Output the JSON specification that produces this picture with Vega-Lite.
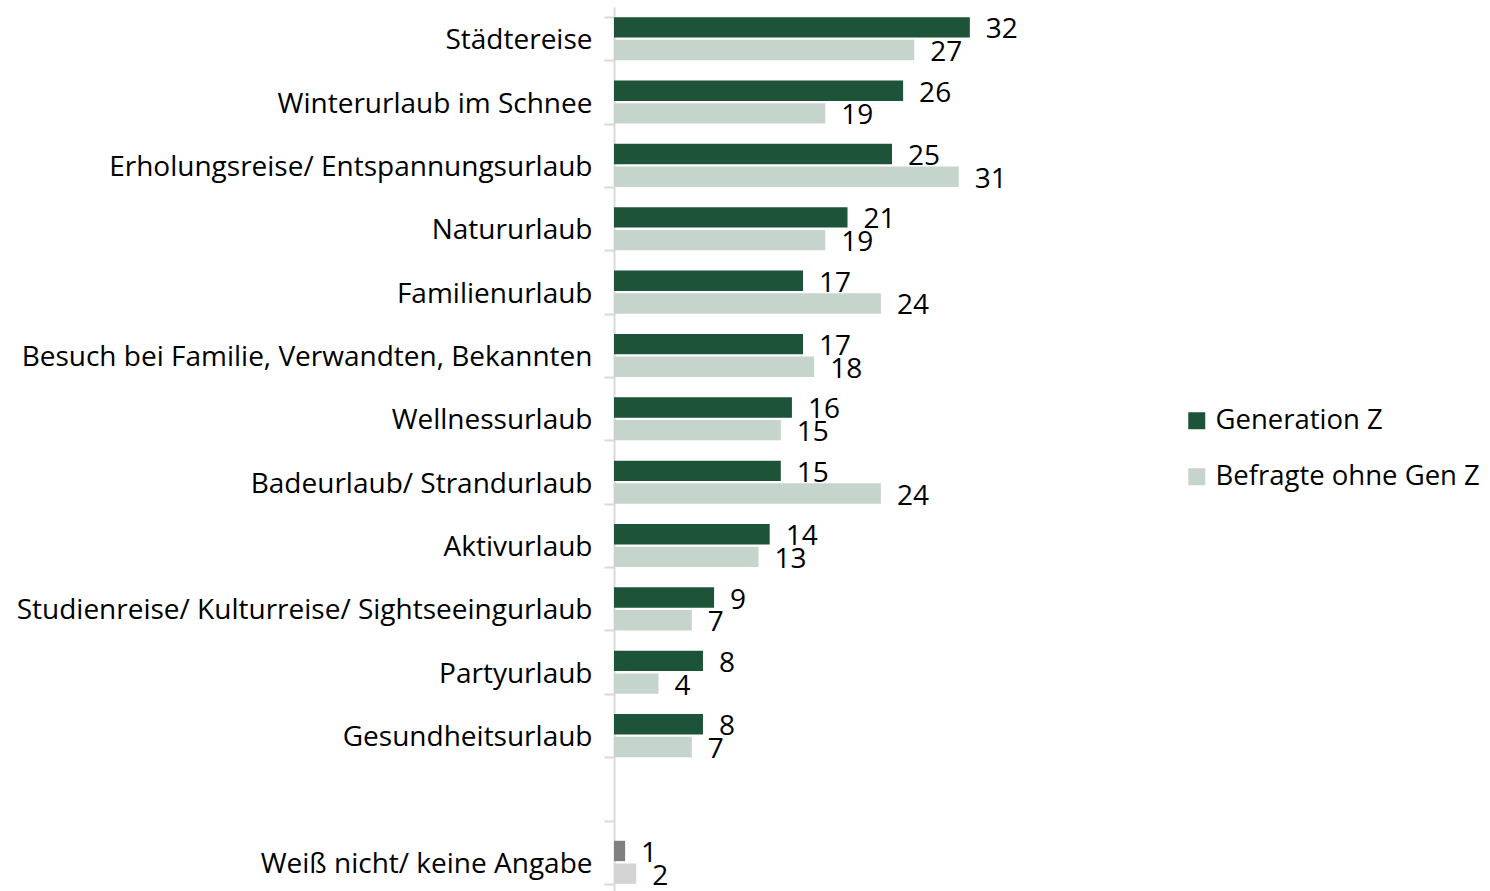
{
  "$schema": "https://vega.github.io/schema/vega-lite/v6.json",
  "width": 556,
  "height": 887,
  "autosize": {"type": "none"},
  "padding": {"left": 614, "top": 7, "right": 320, "bottom": 0},
  "config": {"view": {"stroke": null}, "font": "Open Sans", "text": {"font": "Open Sans"}},
  "data": {
    "values": [
      {"Kategorie": "Städtereise", "Gruppe": "Generation Z", "Wert": 32},
      {"Kategorie": "Städtereise", "Gruppe": "Befragte ohne Gen Z", "Wert": 27},
      {"Kategorie": "Winterurlaub im Schnee", "Gruppe": "Generation Z", "Wert": 26},
      {"Kategorie": "Winterurlaub im Schnee", "Gruppe": "Befragte ohne Gen Z", "Wert": 19},
      {"Kategorie": "Erholungsreise/ Entspannungsurlaub", "Gruppe": "Generation Z", "Wert": 25},
      {"Kategorie": "Erholungsreise/ Entspannungsurlaub", "Gruppe": "Befragte ohne Gen Z", "Wert": 31},
      {"Kategorie": "Natururlaub", "Gruppe": "Generation Z", "Wert": 21},
      {"Kategorie": "Natururlaub", "Gruppe": "Befragte ohne Gen Z", "Wert": 19},
      {"Kategorie": "Familienurlaub", "Gruppe": "Generation Z", "Wert": 17},
      {"Kategorie": "Familienurlaub", "Gruppe": "Befragte ohne Gen Z", "Wert": 24},
      {"Kategorie": "Besuch bei Familie, Verwandten, Bekannten", "Gruppe": "Generation Z", "Wert": 17},
      {"Kategorie": "Besuch bei Familie, Verwandten, Bekannten", "Gruppe": "Befragte ohne Gen Z", "Wert": 18},
      {"Kategorie": "Wellnessurlaub", "Gruppe": "Generation Z", "Wert": 16},
      {"Kategorie": "Wellnessurlaub", "Gruppe": "Befragte ohne Gen Z", "Wert": 15},
      {"Kategorie": "Badeurlaub/ Strandurlaub", "Gruppe": "Generation Z", "Wert": 15},
      {"Kategorie": "Badeurlaub/ Strandurlaub", "Gruppe": "Befragte ohne Gen Z", "Wert": 24},
      {"Kategorie": "Aktivurlaub", "Gruppe": "Generation Z", "Wert": 14},
      {"Kategorie": "Aktivurlaub", "Gruppe": "Befragte ohne Gen Z", "Wert": 13},
      {"Kategorie": "Studienreise/ Kulturreise/ Sightseeingurlaub", "Gruppe": "Generation Z", "Wert": 9},
      {"Kategorie": "Studienreise/ Kulturreise/ Sightseeingurlaub", "Gruppe": "Befragte ohne Gen Z", "Wert": 7},
      {"Kategorie": "Partyurlaub", "Gruppe": "Generation Z", "Wert": 8},
      {"Kategorie": "Partyurlaub", "Gruppe": "Befragte ohne Gen Z", "Wert": 4},
      {"Kategorie": "Gesundheitsurlaub", "Gruppe": "Generation Z", "Wert": 8},
      {"Kategorie": "Gesundheitsurlaub", "Gruppe": "Befragte ohne Gen Z", "Wert": 7},
      {"Kategorie": "Weiß nicht/ keine Angabe", "Gruppe": "Generation Z", "Wert": 1},
      {"Kategorie": "Weiß nicht/ keine Angabe", "Gruppe": "Befragte ohne Gen Z", "Wert": 2}
    ]
  },
  "encoding": {
    "y": {
      "field": "Kategorie",
      "type": "nominal",
      "scale": {
        "domain": ["Städtereise", "Winterurlaub im Schnee", "Erholungsreise/ Entspannungsurlaub", "Natururlaub", "Familienurlaub", "Besuch bei Familie, Verwandten, Bekannten", "Wellnessurlaub", "Badeurlaub/ Strandurlaub", "Aktivurlaub", "Studienreise/ Kulturreise/ Sightseeingurlaub", "Partyurlaub", "Gesundheitsurlaub", " ", "Weiß nicht/ keine Angabe"],
        "paddingInner": 0.32,
        "paddingOuter": 0.16
      },
      "axis": {
        "title": null,
        "domainColor": "#d9d9d9",
        "domainWidth": 2,
        "tickColor": "#d9d9d9",
        "tickWidth": 2,
        "tickSize": 10,
        "tickBand": "extent",
        "labelFontSize": 28,
        "labelColor": "#000000",
        "labelPadding": 12,
        "labelOffset": 2,
        "labelLimit": 0
      }
    },
    "yOffset": {
      "field": "Gruppe",
      "type": "nominal",
      "scale": {"domain": ["Generation Z", "Befragte ohne Gen Z"], "paddingInner": 0.1}
    },
    "x": {
      "field": "Wert",
      "type": "quantitative",
      "scale": {"domain": [0, 50]},
      "axis": null
    }
  },
  "layer": [
    {
      "mark": {"type": "bar"},
      "encoding": {
        "color": {
          "field": "Gruppe",
          "type": "nominal",
          "condition": [
            {"test": "datum.Kategorie === 'Weiß nicht/ keine Angabe' && datum.Gruppe === 'Generation Z'", "value": "#808080"},
            {"test": "datum.Kategorie === 'Weiß nicht/ keine Angabe' && datum.Gruppe === 'Befragte ohne Gen Z'", "value": "#d4d4d4"}
          ],
          "scale": {"domain": ["Generation Z", "Befragte ohne Gen Z"], "range": ["#1d5338", "#c5d5cb"]},
          "legend": {
            "title": null,
            "orient": "none",
            "legendX": 569,
            "legendY": 400,
            "symbolType": "square",
            "symbolSize": 289,
            "symbolStrokeWidth": 0,
            "labelFontSize": 27.5,
            "labelColor": "#000000",
            "labelOffset": 5,
            "rowPadding": 27,
            "labelLimit": 0
          }
        }
      }
    },
    {
      "mark": {"type": "text", "align": "left", "baseline": "middle", "dx": 16, "dy": 3, "fontSize": 28, "color": "#000000"},
      "encoding": {"text": {"field": "Wert", "type": "quantitative"}}
    }
  ]
}
